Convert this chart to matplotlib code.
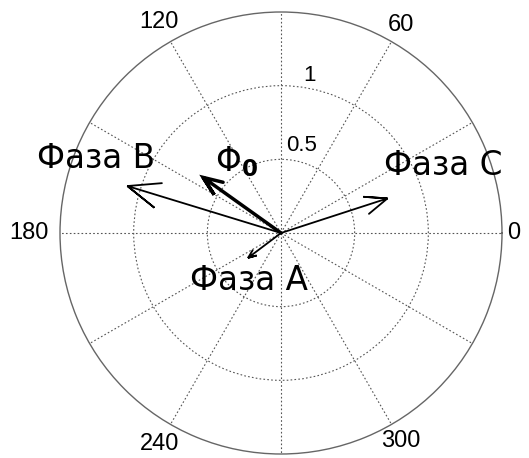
import numpy as np
import matplotlib
matplotlib.use('Agg')
import matplotlib.pyplot as plt

plt.rcParams['font.family'] = ['Liberation Sans', 'DejaVu Sans']
plt.rcParams['mathtext.fontset'] = 'dejavusans'

# phasors: magnitude and angle (degrees)
names = ['Фаза A', 'Фаза B', 'Фаза C', r'$\Phi_{\mathbf{0}}$']
magnitudes = [0.28, 1.09, 0.76, 0.65]
angles = [217, 163, 18, 144.5]
widths = [1.3, 1.3, 1.3, 2.5]

rings = [0.5, 1.0]
ring_labels = ['0.5', '1']
theta_ticks = list(range(0, 360, 30))
theta_labels = ['0', '60', '120', '180', '240', '300']
r_max = 1.5

fig = plt.figure(figsize=(5.29, 4.58), dpi=100)
ax = fig.add_axes([60 / 529, 4 / 458, 442 / 529, 442 / 458], projection='polar')

# arrows like matlab compass
arrow = np.array([0, 1, .8, 1, .8]) + 1j * np.array([0, 0, .08, 0, -.08])
for m, a, w in zip(magnitudes, angles, widths):
    z = arrow * m * np.exp(1j * np.deg2rad(a))
    ax.plot(np.angle(z), np.abs(z), color='black', lw=w, solid_capstyle='round',
            solid_joinstyle='miter', zorder=3)

ax.set_ylim(0, r_max)
ax.set_yticks(rings)
ax.set_yticklabels([])
ax.set_thetagrids(theta_ticks, [''] * len(theta_ticks))
ax.grid(True, color='#555555', linestyle=(0, (1.5, 2)), linewidth=0.8)
ax.spines['polar'].set_color('#666666')
ax.spines['polar'].set_linewidth(1.0)

# angle labels outside the circle
label_r = [1.58, 1.628, 1.655, 1.71, 1.655, 1.628]
for lab, r in zip(theta_labels, label_r):
    ax.text(np.deg2rad(float(lab)), r, lab, fontsize=17, ha='center', va='center')

ax.text(np.deg2rad(79.6), 1.085, ring_labels[1], fontsize=16, ha='center', va='center')
ax.text(np.deg2rad(76.6), 0.61, ring_labels[0], fontsize=16, ha='center', va='center')

lbl = dict(fontsize=23.5, ha='center', va='center', family=['DejaVu Sans'])
ax.text(np.deg2rad(235.8), 0.39, names[0], **lbl)
ax.text(np.deg2rad(158.0), 1.355, names[1], **lbl)
ax.text(np.deg2rad(22.5), 1.19, names[2], **lbl)
ax.text(np.deg2rad(122), 0.574, names[3], **lbl)

fig.savefig('out.png', dpi=100)
